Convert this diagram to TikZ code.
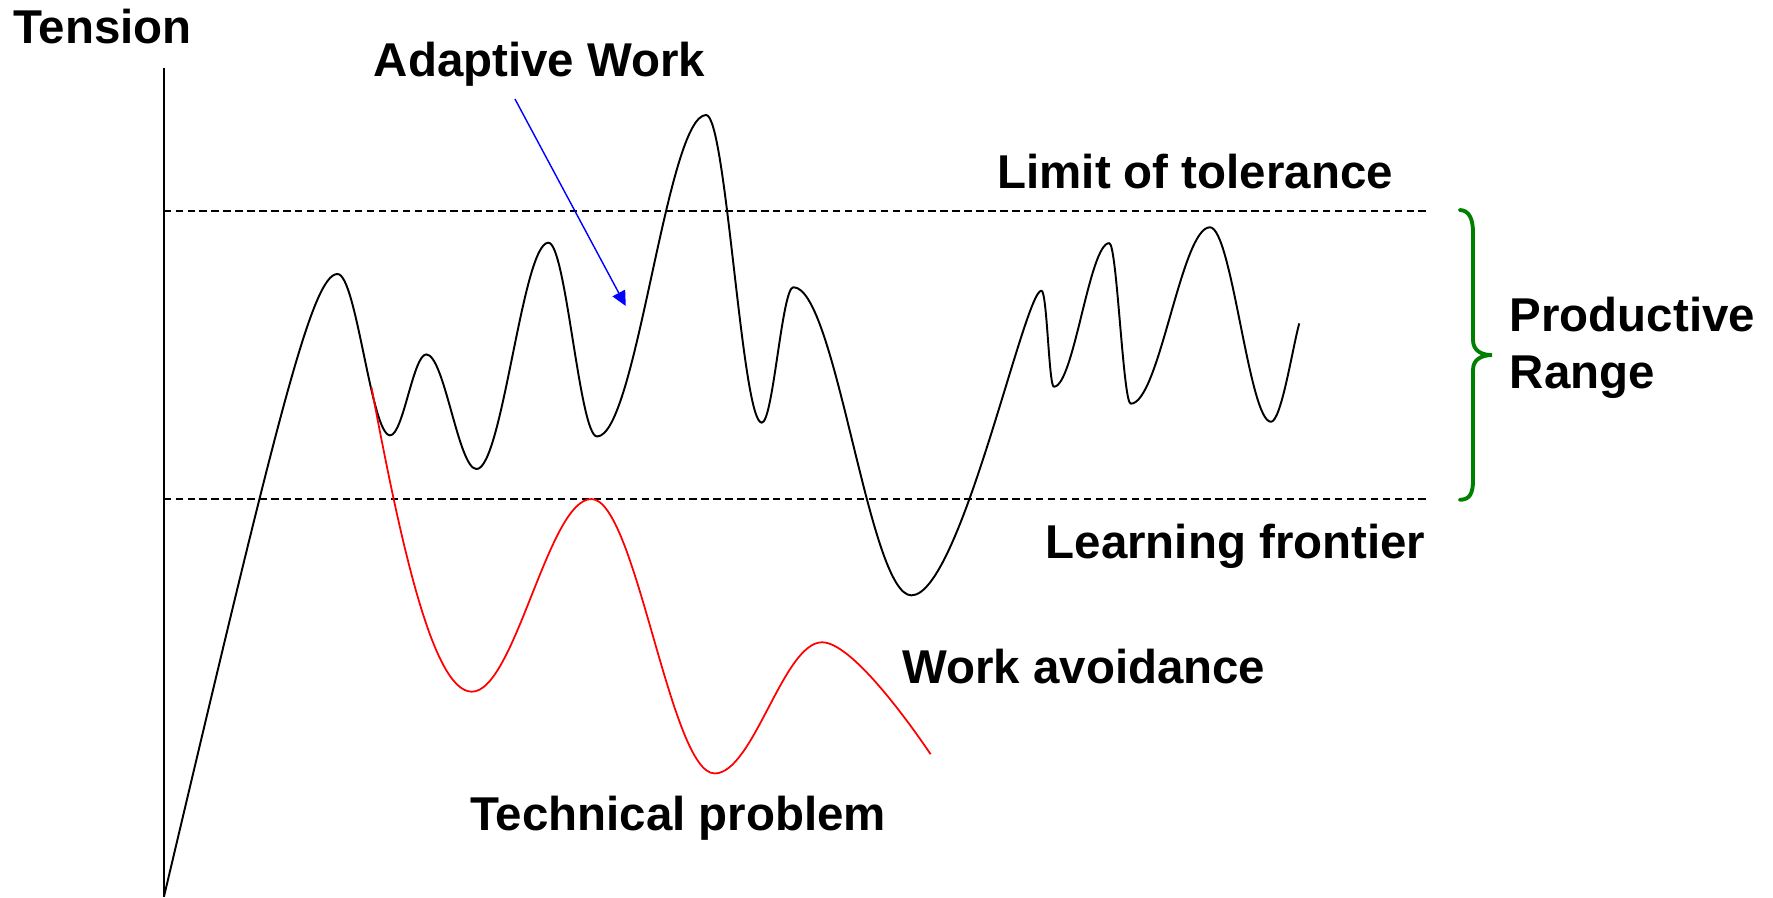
\documentclass[tikz,border=0pt]{standalone}
\usepackage{fontspec}
\setmainfont{Liberation Sans}
\usetikzlibrary{arrows.meta}
\definecolor{bracegreen}{RGB}{0,128,0}
\begin{document}
\begin{tikzpicture}[x=0.011307cm,y=-0.011307cm,
  lbl/.style={font=\fontsize{13.5}{16}\selectfont\bfseries, inner sep=0pt, anchor=base west},
  axisline/.style={line width=0.55pt},
  guide/.style={line width=0.5pt, dash pattern=on 2.1pt off 1.3pt},
  tensioncurve/.style={line width=0.55pt, line join=round},
  avoid/.style={red, line width=0.5pt},
  pointer/.style={blue, line width=0.4pt, -{Triangle[length=4.2pt,width=4pt]}},
  rangebrace/.style={draw=bracegreen, line width=1.1pt, line cap=round}]
\useasboundingbox (0,0) rectangle (1568,794);

% labels
\node[lbl] (tensionlbl) at (11.2,38.3) {Tension};
\node[lbl] (adaptive) at (330,67.2) {Adaptive Work};
\node[lbl] (limit) at (881.5,166.6) {Limit of tolerance};
\node[lbl] (productive) at (1334.6,293.3) {Productive};
\node[lbl] (range) at (1334.6,343.4) {Range};
\node[lbl] (frontier) at (924.2,493.8) {Learning frontier};
\node[lbl] (avoidance) at (797.4,604.3) {Work avoidance};
\node[lbl] (technical) at (415.3,734.6) {Technical problem};

% vertical axis
\coordinate (axtop) at (144.7,59.9);
\coordinate (axbot) at (144.7,793.6);
\draw[axisline] (axtop) -- (axbot);

% limit of tolerance and learning frontier
\coordinate (lim0) at (144.7,186.3);
\coordinate (lim1) at (1262,186.3);
\coordinate (lf0) at (144.7,441.3);
\coordinate (lf1) at (1262,441.3);
\draw[guide] (lim0) -- (lim1);
\draw[guide] (lf0) -- (lf1);

% productive range brace
\draw[rangebrace] (1291,185.7) .. controls (1300,186) and (1302.7,195) .. (1302.7,206)
  -- (1302.7,300.7) .. controls (1302.7,310) and (1310,314) .. (1319.5,314)
  .. controls (1310,314) and (1302.7,318) .. (1302.7,327)
  -- (1302.7,424.5) .. controls (1302.7,436) and (1300,442) .. (1291,442);

% tension over time (adaptive work)
\draw[tensioncurve] (145,793)
  .. controls (245,370) and (276,242.3) .. (298.5,242.3)
  .. controls (315.2,242.3) and (328.3,385) .. (345,385)
  .. controls (356.5,385) and (365.5,313.4) .. (377,313.4)
  .. controls (393,313.4) and (405.4,414.8) .. (421.4,414.8)
  .. controls (444.3,414.8) and (462.1,214.6) .. (485,214.6)
  .. controls (500.5,214.6) and (512.5,386) .. (528,386)
  .. controls (562.7,386) and (589.8,101.7) .. (624.5,101.7)
  .. controls (642.2,101.7) and (656,373.8) .. (673.7,373.8)
  .. controls (683.7,373.8) and (691.6,254) .. (701.6,254)
  .. controls (739.2,254) and (768.4,526.5) .. (806,526.5)
  .. controls (849,526.5) and (906,257) .. (921,257)
  .. controls (926,257) and (927.6,342) .. (932,342)
  .. controls (949.6,342) and (963.4,215) .. (981,215)
  .. controls (987.8,215) and (993.2,357) .. (1000,357)
  .. controls (1025.2,357) and (1044.8,201) .. (1070,201)
  .. controls (1089.4,201) and (1104.6,373) .. (1124,373)
  .. controls (1133,373) and (1143,308) .. (1149,286);

% technical problem (work avoidance)
\draw[avoid] (328.5,342.5)
  .. controls (353,472.5) and (382,611.7) .. (417.3,611.7)
  .. controls (455.3,611.7) and (485,441.3) .. (523,441.3)
  .. controls (562.2,441.3) and (592.8,684) .. (632,684)
  .. controls (666.2,684) and (692.8,568) .. (727,568)
  .. controls (752,568) and (800,633) .. (823,667);

% pointer from the adaptive work label
\coordinate (awfrom) at (455.4,87.5);
\coordinate (awto) at (553.4,270.6);
\draw[pointer] (awfrom) -- (awto);
\end{tikzpicture}
\end{document}
